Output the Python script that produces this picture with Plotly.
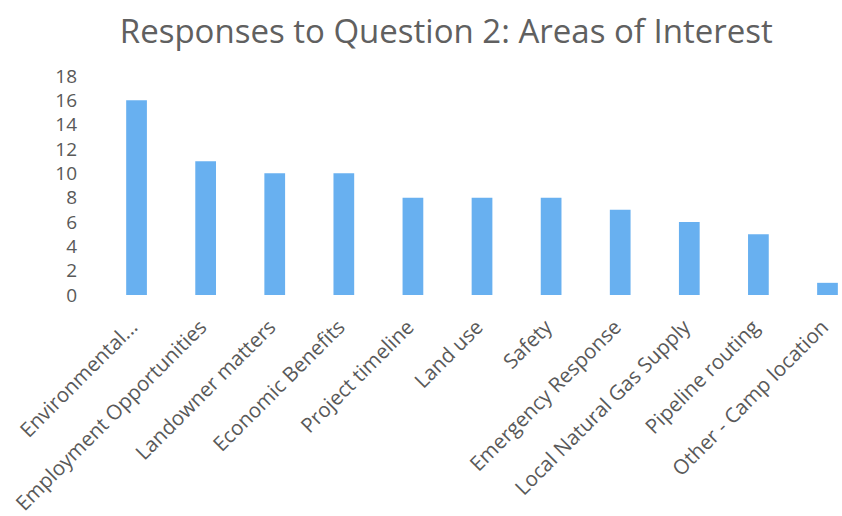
import plotly.graph_objects as go

categories = [
    "Environmental...",
    "Employment Opportunities",
    "Landowner matters",
    "Economic Benefits",
    "Project timeline",
    "Land use",
    "Safety",
    "Emergency Response",
    "Local Natural Gas Supply",
    "Pipeline routing",
    "Other - Camp location",
]
responses = [16, 11, 10, 10, 8, 8, 8, 7, 6, 5, 1]
y_ticks = list(range(0, 19, 2))

fig = go.Figure(
    go.Bar(
        x=categories,
        y=responses,
        marker_color="#68B0F0",
        marker_line_width=0,
        width=0.3,
    )
)

fig.update_layout(
    title=dict(
        text="Responses to Question 2: Areas of Interest",
        x=0.53,
        xanchor="center",
        y=0.94,
        yanchor="middle",
        font=dict(family="Open Sans", size=33, color="#606060"),
    ),
    width=842,
    height=516,
    margin=dict(l=102, r=0, t=76, b=221),
    plot_bgcolor="white",
    paper_bgcolor="white",
    showlegend=False,
    font=dict(family="Open Sans", color="#595959"),
)
fig.update_xaxes(
    tickangle=-45,
    tickfont=dict(size=20.5, color="#595959"),
    range=[-0.5, 10.21],
    showgrid=False,
    showline=False,
    ticks="",
    automargin=False,
    ticklabelshift=-5,
    ticklabelstandoff=15,
)
fig.update_yaxes(
    range=[0, 18],
    tickvals=y_ticks,
    tickfont=dict(size=19, color="#595959"),
    showgrid=False,
    zeroline=False,
    showline=False,
    ticks="",
    ticklabelstandoff=24,
    automargin=False,
)

# drop the default page margin so the figure sits at the window's corner
fig.write_html(
    "out.html",
    config={"displayModeBar": False},
    post_script="document.body.style.margin='0';",
)
